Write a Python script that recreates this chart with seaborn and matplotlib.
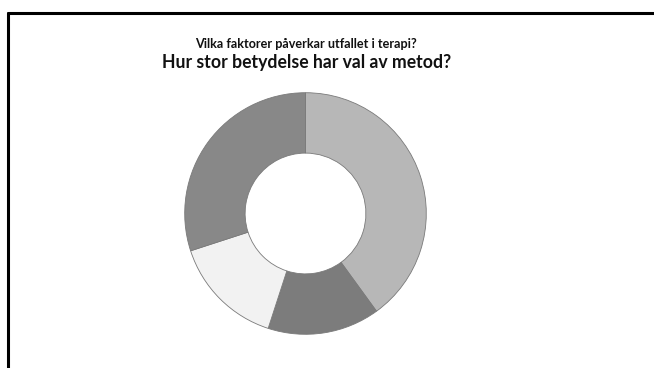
import matplotlib
matplotlib.use("Agg")
import matplotlib.pyplot as plt
from matplotlib.lines import Line2D
import seaborn as sns

# Data
categories = ["A", "B", "C", "D"]
values = [40, 15, 15, 30]
colors = ["#b7b7b7", "#7c7c7c", "#f2f2f2", "#888888"]
subtitle = "Vilka faktorer påverkar utfallet i terapi?"
title = "Hur stor betydelse har val av metod?"

sns.set_theme(style="white")
plt.rcParams['font.family'] = ['Lato', 'DejaVu Sans']

W, H = 654, 368
fig = plt.figure(figsize=(W / 100, H / 100), dpi=100)
fig.patch.set_facecolor("white")

cx, cy, r = 305.5, 213.5, 122
ax = fig.add_axes([(cx - r) / W, (H - cy - r) / H, 2 * r / W, 2 * r / H])
ax.pie(values, colors=sns.color_palette(colors), startangle=90, counterclock=False,
       radius=1.0, wedgeprops=dict(width=0.5, edgecolor="#7a7a7a", linewidth=0.6))
ax.set_xlim(-1.01, 1.01)
ax.set_ylim(-1.01, 1.01)
ax.set_aspect("equal")
ax.axis("off")

fig.text(306 / W, 1 - 44 / H, subtitle, ha="center", va="center",
         fontsize=9.1, fontweight="bold", color="#111111")
fig.text(306.5 / W, 1 - 62.5 / H, title, ha="center", va="center",
         fontsize=12.7, fontweight="bold", color="#111111")

# Partial frame (top and left)
fig.add_artist(Line2D([8 / W, 1.0], [1 - 12.5 / H, 1 - 12.5 / H], transform=fig.transFigure,
                      color="black", linewidth=2.2))
fig.add_artist(Line2D([8 / W, 8 / W], [0.0, 1 - 12.5 / H], transform=fig.transFigure,
                      color="black", linewidth=2.2))

fig.savefig("out.png", dpi=100, facecolor="white")
